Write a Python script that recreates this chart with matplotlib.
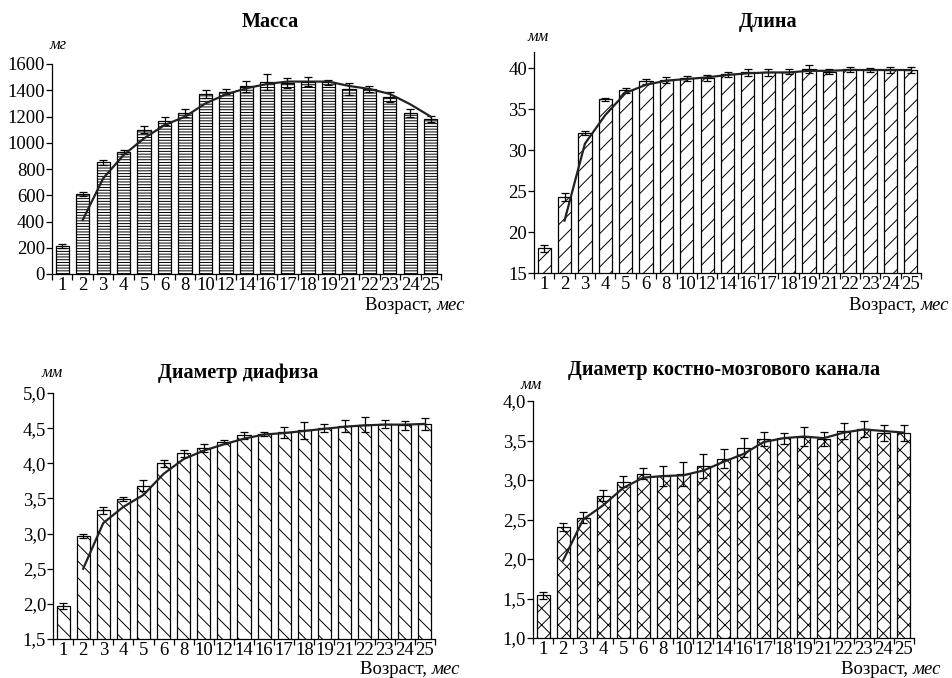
import numpy as np
import matplotlib
matplotlib.use('Agg')
import matplotlib.pyplot as plt
from matplotlib.ticker import FuncFormatter

plt.rcParams['font.family'] = ['Liberation Serif', 'DejaVu Serif']
plt.rcParams['hatch.linewidth'] = 0.7

# Age categories (months)
ages = ['1', '2', '3', '4', '5', '6', '8', '10', '12', '14', '16', '17', '18', '19', '21', '22', '23', '24', '25']

# Mass, mg
mass = [215, 610, 850, 930, 1100, 1165, 1225, 1370, 1390, 1430, 1465, 1455, 1465, 1460, 1410, 1410, 1350, 1230, 1180]
mass_err = [15, 15, 20, 15, 25, 30, 30, 30, 20, 40, 60, 40, 35, 20, 45, 25, 40, 30, 25]
mass_trend = [411, 729, 907, 1034, 1135, 1199, 1300, 1369, 1415, 1448, 1466, 1466, 1466, 1433, 1410, 1372, 1293, 1199]

# Length, mm
length = [18.0, 24.3, 32.1, 36.2, 37.3, 38.4, 38.6, 38.8, 38.8, 39.3, 39.5, 39.5, 39.6, 39.9, 39.6, 39.9, 39.8, 39.8, 39.8]
length_err = [0.4, 0.5, 0.2, 0.2, 0.3, 0.3, 0.4, 0.3, 0.4, 0.3, 0.4, 0.4, 0.3, 0.5, 0.3, 0.3, 0.2, 0.4, 0.4]
length_trend = [21.4, 30.8, 34.3, 37.0, 38.0, 38.5, 38.7, 38.9, 39.2, 39.4, 39.5, 39.5, 39.7, 39.7, 39.8, 39.8, 39.8, 39.8]

# Diaphysis diameter, mm
diaph = [1.97, 2.97, 3.33, 3.49, 3.68, 4.00, 4.14, 4.22, 4.30, 4.40, 4.42, 4.44, 4.47, 4.50, 4.53, 4.55, 4.56, 4.54, 4.56]
diaph_err = [0.04, 0.03, 0.05, 0.03, 0.08, 0.05, 0.05, 0.06, 0.03, 0.05, 0.03, 0.08, 0.12, 0.06, 0.08, 0.11, 0.06, 0.06, 0.09]
diaph_trend = [2.5, 3.15, 3.38, 3.55, 3.85, 4.06, 4.18, 4.27, 4.35, 4.41, 4.43, 4.46, 4.49, 4.52, 4.54, 4.55, 4.55, 4.56]

# Medullary canal diameter, mm
canal = [1.54, 2.41, 2.52, 2.80, 2.98, 3.08, 3.05, 3.08, 3.18, 3.27, 3.41, 3.52, 3.53, 3.55, 3.52, 3.62, 3.65, 3.60, 3.60]
canal_err = [0.04, 0.05, 0.07, 0.07, 0.07, 0.07, 0.13, 0.15, 0.15, 0.12, 0.12, 0.09, 0.07, 0.12, 0.09, 0.10, 0.10, 0.10, 0.10]
canal_trend = [1.98, 2.5, 2.68, 2.9, 3.03, 3.05, 3.06, 3.12, 3.23, 3.33, 3.48, 3.53, 3.55, 3.53, 3.60, 3.64, 3.62, 3.60]

W, H = 952, 678
FS = 13.5
fig = plt.figure(figsize=(W / 100, H / 100), dpi=100)

comma = FuncFormatter(lambda v, p: f'{v:.1f}'.replace('.', ','))


def px_axes(l, r, b, t):
    return fig.add_axes([l / W, 1 - b / H, (r - l) / W, (b - t) / H])


def panel(ax, vals, errs, trend, hatch, ylim, yticks, fmt=None):
    x = np.arange(len(ages))
    ax.bar(x, vals, width=0.65, color='white', edgecolor='black', linewidth=0.9,
           hatch=hatch, zorder=2)
    ax.errorbar(x, vals, yerr=errs, fmt='none', ecolor='black', elinewidth=0.9,
                capsize=3, capthick=0.9, zorder=3)
    ax.plot(x[1:], trend, color='#222222', linewidth=1.6, zorder=4)
    ax.set_xlim(-0.5, len(ages) - 0.5)
    ax.set_ylim(*ylim)
    ax.set_yticks(yticks)
    if fmt is not None:
        ax.yaxis.set_major_formatter(fmt)
    ax.set_xticks(x)
    ax.set_xticklabels(ages)
    ax.set_xticks(np.arange(len(ages) + 1) - 0.5, minor=True)
    ax.tick_params(axis='x', which='major', length=0, pad=2, labelsize=FS)
    ax.tick_params(axis='x', which='minor', length=4, direction='out', width=0.9)
    ax.tick_params(axis='y', length=4, direction='out', width=0.9, labelsize=FS, pad=1)
    for s in ['top', 'right']:
        ax.spines[s].set_visible(False)
    for s in ['left', 'bottom']:
        ax.spines[s].set_linewidth(0.9)


def age_label(xr, y):
    r = fig.canvas.get_renderer()
    t = fig.text(xr / W, 1 - y / H, 'мес', style='italic', fontsize=FS,
                 ha='right', va='center')
    bb = t.get_window_extent(renderer=r)
    fig.text(bb.x0 / W, 1 - y / H, 'Возраст, ', fontsize=FS, ha='right', va='center')


def title(x, y, s):
    fig.text(x / W, 1 - y / H, s, fontsize=14.5, fontweight='bold', ha='center', va='center')


def unit(x, y, s):
    fig.text(x / W, 1 - y / H, s, fontsize=12, style='italic', ha='center', va='center')


ax1 = px_axes(52, 441, 274, 64)
panel(ax1, mass, mass_err, mass_trend, '------', (0, 1600), range(0, 1601, 200))
title(270, 22, 'Масса')
unit(58, 45, 'мг')
age_label(465, 305)

ax2 = px_axes(534, 921, 273, 52)
panel(ax2, length, length_err, length_trend, '//', (15, 42), range(15, 41, 5))
title(768, 22, 'Длина')
unit(538, 37, 'мм')
age_label(949, 305)

ax3 = px_axes(53, 435, 639, 393)
panel(ax3, diaph, diaph_err, diaph_trend, '\\\\', (1.5, 5.0), np.arange(1.5, 5.01, 0.5), comma)
title(238, 373, 'Диаметр диафиза')
unit(52, 373, 'мм')
age_label(460, 670)

ax4 = px_axes(533, 914, 638, 401)
panel(ax4, canal, canal_err, canal_trend, 'xx', (1.0, 4.0), np.arange(1.0, 4.01, 0.5), comma)
title(724, 370, 'Диаметр костно-мозгового канала')
unit(531, 385, 'мм')
age_label(941, 670)

fig.savefig('out.png', dpi=100)
